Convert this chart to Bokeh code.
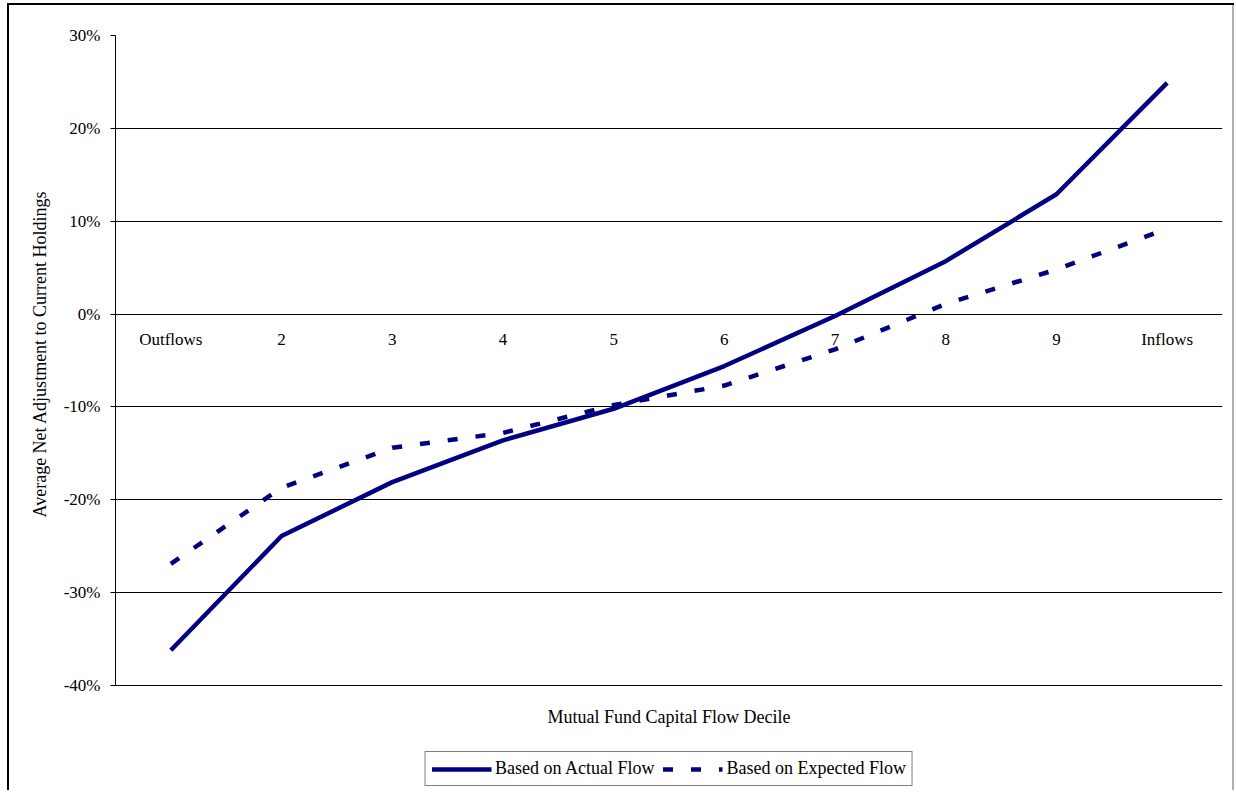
from bokeh.plotting import figure
from bokeh.models import (FactorRange, Range1d, NumeralTickFormatter, FixedTicker,
                          Legend, LegendItem, Label, Title)
from bokeh.core.properties import value
from bokeh.embed import file_html
from bokeh.resources import INLINE

# ---- data ----
categories = ["Outflows", "2", "3", "4", "5", "6", "7", "8", "9", "Inflows"]
actual_flow = [-0.362, -0.239, -0.181, -0.136, -0.102, -0.056, -0.002, 0.057, 0.129, 0.249]
expected_flow = [-0.269, -0.187, -0.144, -0.128, -0.098, -0.077, -0.038, 0.011, 0.048, 0.092]
y_ticks = [-0.4, -0.3, -0.2, -0.1, 0.0, 0.1, 0.2, 0.3]
zeros = [0.0] * len(categories)

FONT = "Liberation Serif"
NAVY = "#000080"

# layout: the frame runs down to the bottom so that the legend (which sits under the
# -40% line in the original) can live inside it; axis/grid are bounded to -40%..30%.
W, H = 1234, 790
TOP, LEFT, RIGHT_PAD = 35, 115, 12
frame_h = H - TOP
px_per_unit = 650 / 0.7          # 10% == ~92.9 px, as in the original
y_lo = 0.3 - frame_h / px_per_unit
# the y title starts ~168 px below the 0% line... i.e. ~273 px above the frame bottom
title_offset = 273

p = figure(width=W, height=H,
           x_range=FactorRange(*categories), y_range=Range1d(y_lo, 0.3),
           x_axis_location=None,
           output_backend="svg", toolbar_location=None,
           min_border_left=LEFT, min_border_right=RIGHT_PAD, min_border_top=TOP,
           min_border_bottom=0,
           styles={"box-shadow": "inset 7px 3px 0 0 white, inset 9px 5px 0 0 black, "
                                 "inset -2px 0 0 0 #b0b0b0"})

p.outline_line_color = None
p.background_fill_color = "white"
p.border_fill_color = None
p.xgrid.visible = False
p.ygrid.ticker = FixedTicker(ticks=y_ticks)
p.ygrid.grid_line_color = "black"
p.ygrid.grid_line_width = 1

# y axis
p.yaxis.ticker = FixedTicker(ticks=y_ticks)
p.yaxis.bounds = (-0.4, 0.3)
p.yaxis.formatter = NumeralTickFormatter(format="0%")
p.yaxis.axis_line_color = "black"
p.yaxis.major_tick_line_color = "black"
p.yaxis.major_tick_out = 5
p.yaxis.major_tick_in = 0
p.yaxis.minor_tick_line_color = None
p.yaxis.major_label_standoff = 10
p.yaxis.major_label_text_font = FONT
p.yaxis.major_label_text_font_size = "17px"
p.yaxis.major_label_text_color = "black"

p.add_layout(Title(text="Average Net Adjustment to Current  Holdings", align="left",
                   offset=title_offset, standoff=22, text_font=FONT, text_font_size="18px",
                   text_font_style="normal", text_color="black"), "left")

# category labels sit just under the 0% line
p.text(x=categories, y=zeros, text=categories, text_align="center", text_baseline="middle",
       y_offset=25, text_font=value(FONT), text_font_size="17px", text_color="black")

r1 = p.line(categories, actual_flow, line_color=NAVY, line_width=4.5)
r2 = p.line(categories, expected_flow, line_color=NAVY, line_width=4.5, line_dash="10 18")

# x axis title (under the -40% line)
p.add_layout(Label(x=len(categories) / 2, y=-0.4, y_offset=-31,
                   text="Mutual Fund Capital Flow Decile", text_align="center",
                   text_baseline="middle", text_font=FONT, text_font_size="18px",
                   text_color="black"))

legend = Legend(items=[LegendItem(label="Based on Actual Flow", renderers=[r1]),
                       LegendItem(label="Based on Expected Flow", renderers=[r2])],
                orientation="horizontal", location="bottom_center",
                border_line_color="black", border_line_width=1,
                background_fill_color="white", background_fill_alpha=1,
                glyph_width=60, glyph_height=20, label_standoff=4, spacing=8, padding=6,
                margin=4,
                label_text_font=FONT, label_text_font_size="18px", label_text_color="black")
p.add_layout(legend)

open("out.html", "w").write(file_html(p, INLINE))
